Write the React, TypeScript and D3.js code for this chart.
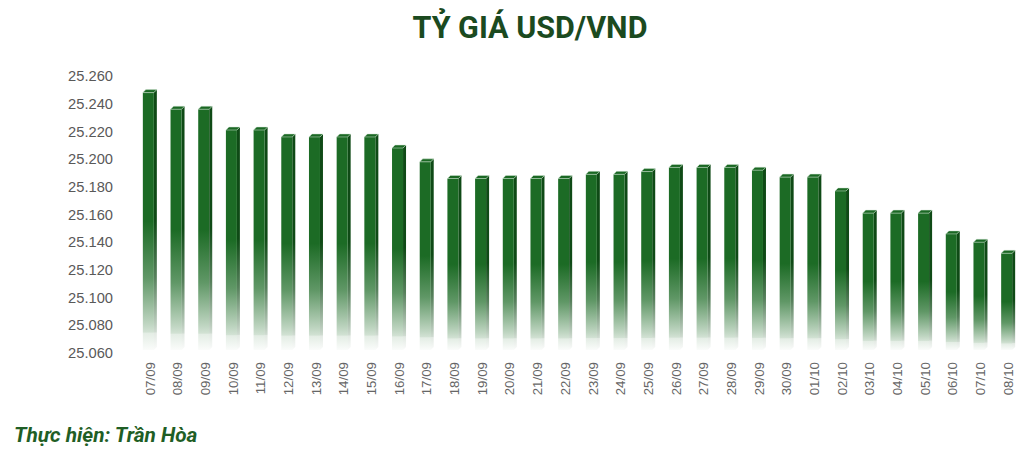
import { useRef, useEffect } from "react";
import * as d3 from "d3";

// ngày giao dịch
const days = [
  "07/09", "08/09", "09/09", "10/09", "11/09", "12/09", "13/09", "14/09",
  "15/09", "16/09", "17/09", "18/09", "19/09", "20/09", "21/09", "22/09",
  "23/09", "24/09", "25/09", "26/09", "27/09", "28/09", "29/09", "30/09",
  "01/10", "02/10", "03/10", "04/10", "05/10", "06/10", "07/10", "08/10",
];

// tỷ giá USD/VND
const rates = [
  25248, 25236, 25236, 25221, 25221, 25216, 25216, 25216, 25216, 25208,
  25198, 25186, 25186, 25186, 25186, 25186, 25189, 25189, 25191, 25194,
  25194, 25194, 25192, 25187, 25187, 25177, 25161, 25161, 25161, 25146,
  25140, 25132,
];

const yTicks = [25060, 25080, 25100, 25120, 25140, 25160, 25180, 25200, 25220, 25240, 25260];

const W = 1034;
const H = 453;

const App = () => {
  const svgRef = useRef<SVGSVGElement>(null);

  useEffect(() => {
    document.body.style.margin = "0";

    const svg = d3.select(svgRef.current).attr("width", W).attr("height", H);
    svg.selectAll("*").remove();

    const x = d3.scaleBand<string>().domain(days).range([136, 1022]);
    const y = d3.scaleLinear().domain([25060, 25260]).range([353, 76]);

    const fmt = d3.formatLocale({
      decimal: ",",
      thousands: ".",
      grouping: [3],
      currency: ["", " đ"],
    }).format(",d");

    // ——— gradients ———
    const defs = svg.append("defs");
    const mkGrad = (id: string, c: string) => {
      const g = defs
        .append("linearGradient")
        .attr("id", id)
        .attr("x1", 0)
        .attr("y1", 0)
        .attr("x2", 0)
        .attr("y2", 1);
      const stops: [number, string, number][] = [
        [0, c, 1],
        [0.5, c, 1],
        [0.72, c, 0.7],
        [0.9, c, 0.28],
        [0.93, c, 0.2],
        [0.935, c, 0.12],
        [1, c, 0.02],
      ];
      stops.forEach(([o, col, op]) =>
        g.append("stop").attr("offset", o).attr("stop-color", col).attr("stop-opacity", op)
      );
    };
    mkGrad("front", "#1c6b25");
    mkGrad("side", "#0f4a16");

    // ——— title ———
    svg
      .append("text")
      .attr("x", 530)
      .attr("y", 38)
      .attr("text-anchor", "middle")
      .style("font", "bold 30.5px Roboto, 'Liberation Sans', sans-serif")
      .attr("fill", "#1b4a1f")
      .text("TỶ GIÁ USD/VND");

    // ——— y axis labels ———
    svg
      .append("g")
      .selectAll("text")
      .data(yTicks)
      .join("text")
      .attr("x", 113)
      .attr("y", (d) => y(d))
      .attr("dy", "0.35em")
      .attr("text-anchor", "end")
      .attr("fill", "#595959")
      .style("font", "14.7px 'Liberation Sans', Arial, sans-serif")
      .text((d) => fmt(d));

    // ——— bars (3D) ———
    const front = 11;
    const depth = 3;
    const base = y(25060) - 3;
    const bars = svg
      .append("g")
      .selectAll("g")
      .data(days.map((d, i) => ({ day: d, v: rates[i] })))
      .join("g")
      .attr("transform", (d) => `translate(${x(d.day)! + (x.step() - front - depth) / 2},0)`);

    bars
      .append("path")
      .attr("fill", "url(#side)")
      .attr(
        "d",
        (d) =>
          `M${front},${y(d.v)} L${front + depth},${y(d.v) - depth} L${front + depth},${base - depth} L${front},${base} Z`
      );

    bars
      .append("rect")
      .attr("x", 0)
      .attr("y", (d) => y(d.v))
      .attr("width", front)
      .attr("height", (d) => base - y(d.v))
      .attr("fill", "url(#front)");

    bars
      .append("path")
      .attr("fill", "#1b6824")
      .attr("stroke", "#d3e6d5")
      .attr("stroke-width", 0.5)
      .attr(
        "d",
        (d) =>
          `M0,${y(d.v)} L${depth},${y(d.v) - depth} L${front + depth},${y(d.v) - depth} L${front},${y(d.v)} Z`
      );

    // ——— x axis labels ———
    svg
      .append("g")
      .selectAll("text")
      .data(days)
      .join("text")
      .attr("transform", (d) => `translate(${x(d)! + x.step() / 2},362) rotate(-90)`)
      .attr("dy", "0.35em")
      .attr("text-anchor", "end")
      .attr("fill", "#666666")
      .style("font", "13.3px 'Liberation Sans', Arial, sans-serif")
      .text((d) => d);

    // ——— ghi chú ———
    svg
      .append("text")
      .attr("x", 14)
      .attr("y", 442)
      .attr("fill", "#1f5e25")
      .style("font", "italic bold 20.8px Roboto, 'Liberation Sans', sans-serif")
      .text("Thực hiện: Trần Hòa");

    return () => {
      svg.selectAll("*").remove();
    };
  }, []);

  return <svg ref={svgRef}></svg>;
};

export default App;
